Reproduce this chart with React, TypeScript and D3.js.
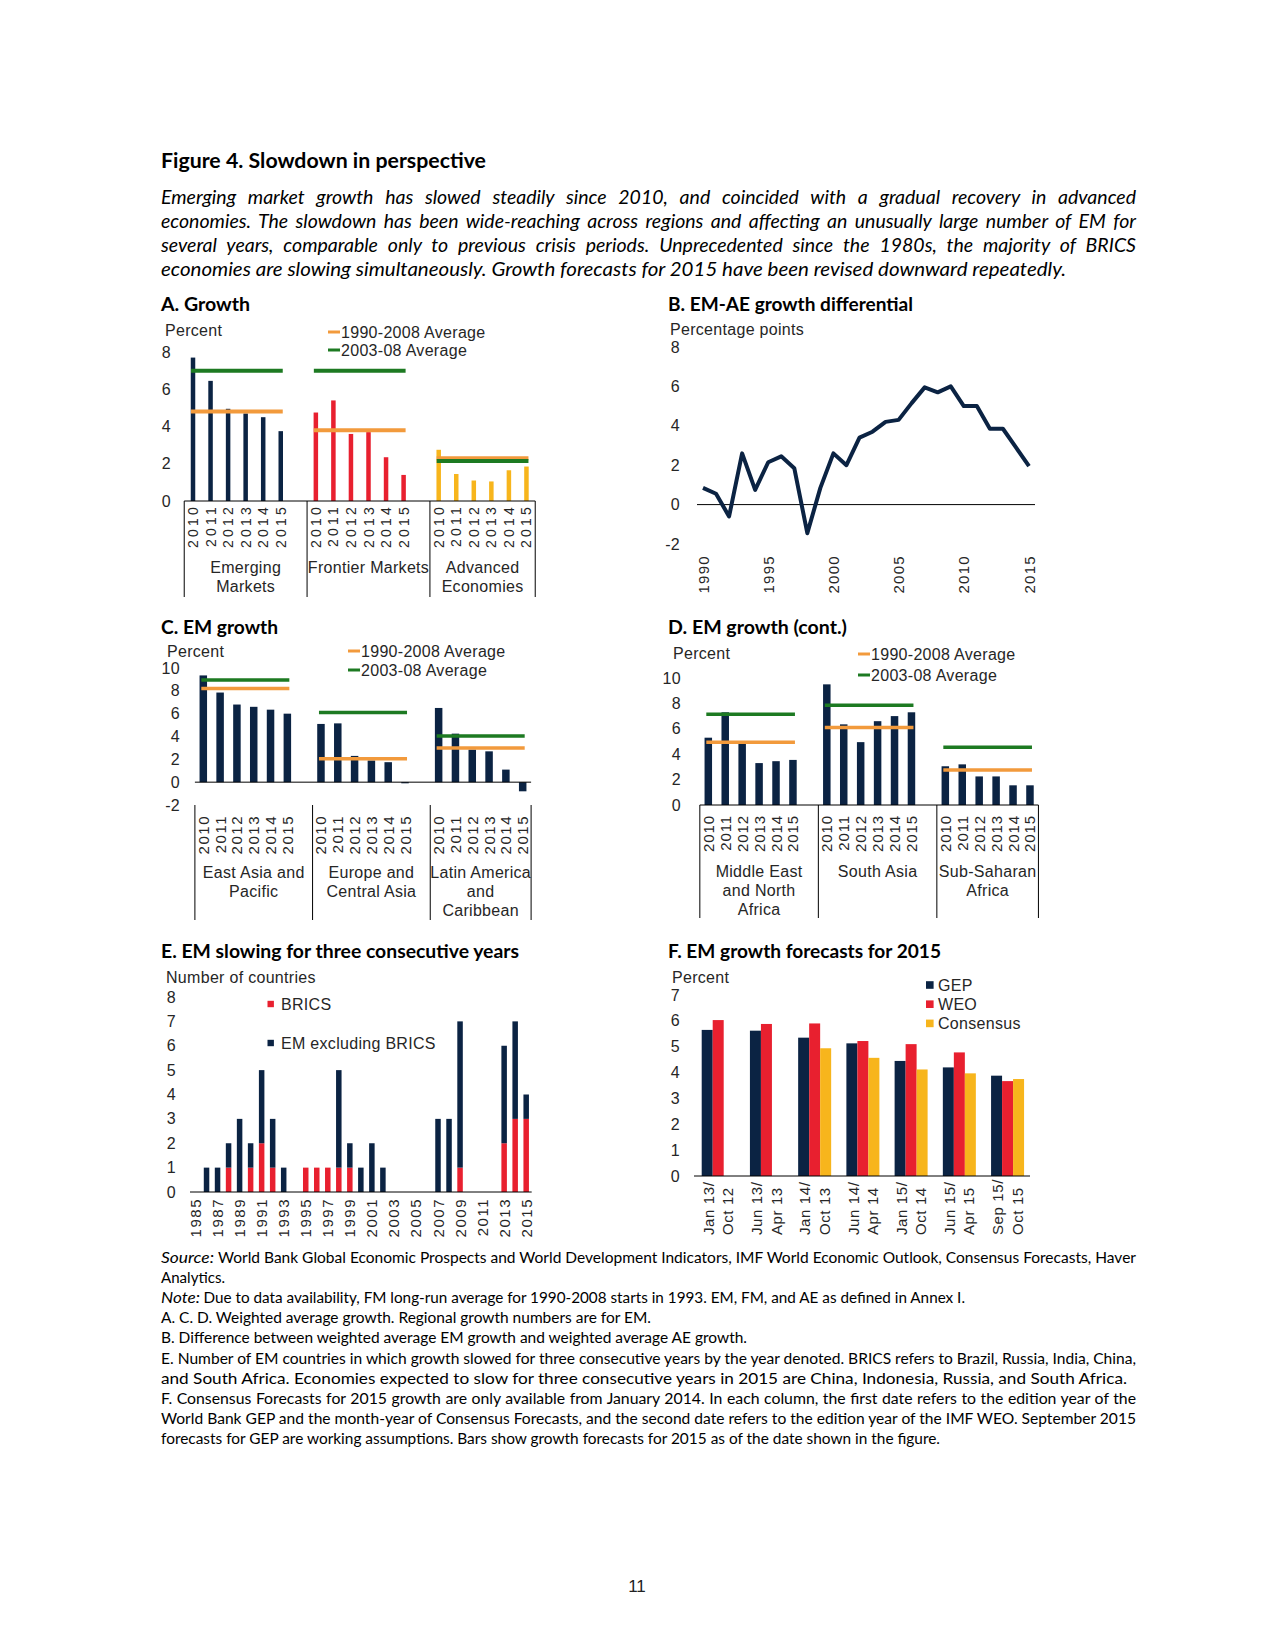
import React, { useEffect, useRef, useState } from "react";
import * as d3 from "d3";

// ---- colours / fonts
const NAVY = "#0b2343";
const RED = "#e8202f";
const GOLD = "#f7b51c";
const ORANGE = "#f29a3c";
const GREEN = "#1d7a22";
const INK = "#262626";
const CHART_FONT = "'Liberation Sans', Arial, sans-serif";
const BODY_FONT = "Lato, 'Open Sans', sans-serif";

// ---- A. Growth
const years = ["2010", "2011", "2012", "2013", "2014", "2015"];
const aGroups = [["Emerging", "Markets"], ["Frontier Markets"], ["Advanced", "Economies"]];
const aEM = [7.7, 6.45, 4.95, 4.7, 4.5, 3.75];
const aFM = [4.75, 5.4, 3.6, 3.7, 2.35, 1.4];
const aAE = [2.75, 1.45, 1.1, 1.05, 1.65, 1.85];
const aAvg9008 = [4.8, 3.8, 2.3];
const aAvg0308 = [7.0, 7.0, 2.15];

// ---- B. EM-AE growth differential
const bYears = [1990, 1991, 1992, 1993, 1994, 1995, 1996, 1997, 1998, 1999, 2000, 2001, 2002,
  2003, 2004, 2005, 2006, 2007, 2008, 2009, 2010, 2011, 2012, 2013, 2014, 2015];
const bDiff = [0.85, 0.55, -0.6, 2.6, 0.75, 2.15, 2.45, 1.85, -1.45, 0.85, 2.6, 2.0, 3.4,
  3.7, 4.2, 4.3, 5.15, 5.95, 5.7, 6.0, 5.0, 5.0, 3.85, 3.85, 2.9, 1.95];
const bTickYears = [1990, 1995, 2000, 2005, 2010, 2015];

// ---- C. EM growth
const cGroups = [["East Asia and", "Pacific"], ["Europe and", "Central Asia"], ["Latin America", "and", "Caribbean"]];
const cEAP = [9.35, 7.85, 6.8, 6.6, 6.35, 6.0];
const cECA = [5.1, 5.15, 2.3, 1.9, 1.75, -0.1];
const cLAC = [6.5, 4.25, 2.85, 2.7, 1.1, -0.8];
const cAvg9008 = [8.2, 2.05, 3.0];
const cAvg0308 = [8.95, 6.1, 4.05];

// ---- D. EM growth (cont.)
const dGroups = [["Middle East", "and North", "Africa"], ["South Asia"], ["Sub-Saharan", "Africa"]];
const dMENA = [5.3, 7.3, 4.85, 3.3, 3.45, 3.55];
const dSAR = [9.5, 6.35, 4.95, 6.6, 7.0, 7.3];
const dSSA = [3.05, 3.2, 2.25, 2.25, 1.55, 1.55];
const dAvg9008 = [4.95, 6.1, 2.75];
const dAvg0308 = [7.15, 7.85, 4.55];

// ---- E. EM slowing for three consecutive years
const eYears = ["1985", "1986", "1987", "1988", "1989", "1990", "1991", "1992", "1993", "1994",
  "1995", "1996", "1997", "1998", "1999", "2000", "2001", "2002", "2003", "2004", "2005", "2006",
  "2007", "2008", "2009", "2010", "2011", "2012", "2013", "2014", "2015"];
const eBRICS = [0, 0, 0, 1, 0, 1, 2, 1, 0, 0, 1, 1, 1, 1, 1, 0, 0, 0, 0, 0, 0, 0, 0, 0, 1, 0, 0, 0, 2, 3, 3];
const eOther = [0, 1, 1, 1, 3, 1, 3, 2, 1, 0, 0, 0, 0, 4, 1, 1, 2, 1, 0, 0, 0, 0, 3, 3, 6, 0, 0, 0, 4, 4, 1];

// ---- F. EM growth forecasts for 2015
const fDates = [["Jan 13/", "Oct 12"], ["Jun 13/", "Apr 13"], ["Jan 14/", "Oct 13"], ["Jun 14/", "Apr 14"],
  ["Jan 15/", "Oct 14"], ["Jun 15/", "Apr 15"], ["Sep 15/", "Oct 15"]];
const fSeries = ["GEP", "WEO", "Consensus"];
const fGEP = [5.65, 5.62, 5.35, 5.13, 4.45, 4.2, 3.88];
const fWEO = [6.03, 5.88, 5.9, 5.22, 5.1, 4.78, 3.67];
const fConsensus = [null, null, 4.94, 4.57, 4.12, 3.97, 3.75];

const chartText = { fontFamily: CHART_FONT, fill: INK, fontSize: 16, letterSpacing: 0.3 };

// text line fitted to a measured width: justified lines get word spacing, others are squeezed a bit
function FitLine({ x, y, end, justify = false, style, children }) {
  const ref = useRef<SVGTextElement>(null);
  const [adj, setAdj] = useState<any>(null);
  useEffect(() => {
    let done = false;
    const measure = () => {
      const el = ref.current;
      if (!el || done) return;
      done = true;
      const w = el.getComputedTextLength();
      const target = end - x;
      const spaces = ((el.textContent || "").match(/ /g) || []).length;
      if (justify && spaces > 0 && target > w) setAdj({ ws: (target - w) / spaces });
      else setAdj({ len: target });
    };
    if ((document as any).fonts && (document as any).fonts.ready) (document as any).fonts.ready.then(measure);
    else measure();
  }, []);
  return (
    <text ref={ref} x={x} y={y}
      textLength={adj && adj.len ? adj.len : undefined}
      lengthAdjust="spacingAndGlyphs"
      style={{ ...style, wordSpacing: adj && adj.ws ? adj.ws : 0 }}>{children}</text>
  );
}

const titleStyle = { fontFamily: BODY_FONT, fontWeight: 700, fontSize: 19.5, fill: "#000" };
const Title = ({ x, y, len, children }) => (
  <FitLine x={x} y={y} end={x + len} style={titleStyle}>{children}</FitLine>
);

const VText = ({ x, y, anchor = "end", size = 14.5, ls = 1, children }) => (
  <text transform={`translate(${x},${y}) rotate(-90)`} textAnchor={anchor} dominantBaseline="central"
    style={{ ...chartText, fontSize: size, letterSpacing: ls }}>{children}</text>
);

const Legend2 = ({ x, y }) => (
  <g>
    {[["1990-2008 Average", ORANGE], ["2003-08 Average", GREEN]].map(([t, c], i) => (
      <g key={t}>
        <line x1={x} x2={x + 12} y1={y[i]} y2={y[i]} stroke={c} strokeWidth={3} />
        <text x={x + 13} y={y[i]} dominantBaseline="central" style={chartText}>{t}</text>
      </g>
    ))}
  </g>
);

function GroupPanel({ p }) {
  const y = d3.scaleLinear().domain(p.yDomain).range(p.yRange);
  const slot = d3.scaleLinear().domain([0, 1]).range([p.slot0, p.slot0 + p.step]);
  const axisY = y(p.yDomain[0]);
  const zeroY = y(0);
  const sepSlots = [-0.5, 6.5, 13.5, 19.5];
  return (
    <g>
      <Title x={p.titleX} y={p.titleY} len={p.titleLen}>{p.title}</Title>
      <text x={p.unitX} y={p.unitY} dominantBaseline="central" style={chartText}>Percent</text>
      <Legend2 x={p.legendX} y={p.legendY} />
      {p.yTicks.map((t) => (
        <text key={t} x={p.tickX} y={y(t)} textAnchor="end" dominantBaseline="central" style={chartText}>{t}</text>
      ))}
      {p.values.map((vals, g) =>
        vals.map((v, i) => {
          const cx = slot(g * 7 + i);
          return (
            <rect key={`${g}-${i}`} x={cx - p.barW / 2} width={p.barW}
              y={Math.min(y(v), zeroY)} height={Math.abs(y(v) - zeroY)} fill={p.colors[g]} />
          );
        })
      )}
      <line x1={slot(-0.5)} x2={slot(19.5)} y1={zeroY} y2={zeroY} stroke="#000" strokeWidth={1} />
      {p.values.map((_, g) => (
        <g key={`avg${g}`}>
          <line x1={slot(g * 7) - 2} x2={slot(g * 7 + 5) + 2} y1={y(p.avg1[g])} y2={y(p.avg1[g])}
            stroke={ORANGE} strokeWidth={p.lineW} />
          <line x1={slot(g * 7) - 2} x2={slot(g * 7 + 5) + 2} y1={y(p.avg2[g])} y2={y(p.avg2[g])}
            stroke={GREEN} strokeWidth={p.lineW} />
        </g>
      ))}
      {sepSlots.map((s) => (
        <line key={s} x1={slot(s)} x2={slot(s)} y1={axisY} y2={p.sepBottom} stroke="#000" strokeWidth={1} />
      ))}
      {p.values.map((vals, g) =>
        vals.map((_, i) => (
          <VText key={`yl${g}-${i}`} x={slot(g * 7 + i)} y={p.yearTop} size={p.yearSize} ls={p.yearLs}>
            {years[i]}
          </VText>
        ))
      )}
      {p.groups.map((lines, g) => {
        const cx = (slot(g * 7 - 0.5) + slot(Math.min(g * 7 + 6.5, 19.5))) / 2;
        return (
          <text key={`gl${g}`} textAnchor="middle" style={chartText}>
            {lines.map((l, k) => (
              <tspan key={k} x={cx} y={p.groupY + k * 19}>{l}</tspan>
            ))}
          </text>
        );
      })}
    </g>
  );
}

const panelA = {
  title: "A. Growth", titleX: 161, titleY: 311, titleLen: 89,
  unitX: 165, unitY: 330, legendX: 328, legendY: [332, 350],
  yDomain: [0, 8], yRange: [501, 352], yTicks: [0, 2, 4, 6, 8], tickX: 171,
  slot0: 193, step: 17.55, barW: 4.5, lineW: 4, sepBottom: 597,
  yearTop: 504, yearSize: 14, yearLs: 3.2, groupY: 573,
  groups: aGroups, values: [aEM, aFM, aAE], avg1: aAvg9008, avg2: aAvg0308, colors: [NAVY, RED, GOLD],
};

const panelC = {
  title: "C. EM growth", titleX: 161, titleY: 634, titleLen: 117,
  unitX: 167, unitY: 651, legendX: 348, legendY: [651, 670],
  yDomain: [-2, 10], yRange: [805, 668], yTicks: [-2, 0, 2, 4, 6, 8, 10], tickX: 180,
  slot0: 203.3, step: 16.81, barW: 7.5, lineW: 3.5, sepBottom: 920,
  yearTop: 815, yearSize: 15, yearLs: 1.5, groupY: 878,
  groups: cGroups, values: [cEAP, cECA, cLAC], avg1: cAvg9008, avg2: cAvg0308, colors: [NAVY, NAVY, NAVY],
};

const panelD = {
  title: "D. EM growth (cont.)", titleX: 668, titleY: 634, titleLen: 179,
  unitX: 673, unitY: 653, legendX: 858, legendY: [654, 675],
  yDomain: [0, 10], yRange: [805, 678], yTicks: [0, 2, 4, 6, 8, 10], tickX: 681,
  slot0: 708.3, step: 16.93, barW: 7.5, lineW: 3.5, sepBottom: 918,
  yearTop: 815, yearSize: 15, yearLs: 0.9, groupY: 877,
  groups: dGroups, values: [dMENA, dSAR, dSSA], avg1: dAvg9008, avg2: dAvg0308, colors: [NAVY, NAVY, NAVY],
};

function LinePanel() {
  const x = d3.scaleLinear().domain([1990, 2015]).range([703, 1029]);
  const y = d3.scaleLinear().domain([-2, 8]).range([544, 347]);
  const line = d3.line<number>().x((_, i) => x(bYears[i])).y((d) => y(d));
  return (
    <g>
      <Title x={668} y={311} len={245}>B. EM-AE growth differential</Title>
      <text x={670} y={329} dominantBaseline="central" style={chartText}>Percentage points</text>
      {y.ticks(5).map((t) => (
        <text key={t} x={680} y={y(t)} textAnchor="end" dominantBaseline="central" style={chartText}>{t}</text>
      ))}
      <line x1={697} x2={1035} y1={y(0)} y2={y(0)} stroke="#000" strokeWidth={1} />
      <path d={line(bDiff) || ""} fill="none" stroke={NAVY} strokeWidth={4} strokeLinejoin="round" />
      {bTickYears.map((yr) => (
        <VText key={yr} x={x(yr)} y={555} size={15} ls={1.3}>{String(yr)}</VText>
      ))}
    </g>
  );
}

function StackPanel() {
  const x = d3.scaleBand().domain(eYears).range([190, 531.7]);
  const y = d3.scaleLinear().domain([0, 8]).range([1192, 997]);
  const stack = d3.stack().keys(["brics", "other"])(
    eYears.map((yr, i) => ({ year: yr, brics: eBRICS[i], other: eOther[i] })) as any
  );
  const colors = [RED, NAVY];
  const bw = 5.5;
  return (
    <g>
      <Title x={161} y={958} len={358}>E. EM slowing for three consecutive years</Title>
      <text x={166} y={977} dominantBaseline="central" style={chartText}>Number of countries</text>
      {y.ticks(8).map((t) => (
        <text key={t} x={176} y={y(t)} textAnchor="end" dominantBaseline="central" style={chartText}>{t}</text>
      ))}
      {stack.map((s, k) =>
        s.map((d, i) =>
          d[1] > d[0] ? (
            <rect key={`${k}-${i}`} x={(x(eYears[i]) as number) + x.bandwidth() / 2 - bw / 2} width={bw}
              y={y(d[1])} height={y(d[0]) - y(d[1])} fill={colors[k]} />
          ) : null
        )
      )}
      <line x1={190} x2={531.7} y1={y(0)} y2={y(0)} stroke="#000" strokeWidth={1} />
      {eYears.filter((_, i) => i % 2 === 0).map((yr) => (
        <VText key={yr} x={(x(yr) as number) + x.bandwidth() / 2} y={1198} size={15} ls={1.5}>{yr}</VText>
      ))}
      {[["BRICS", RED, 1004], ["EM excluding BRICS", NAVY, 1043]].map(([t, c, ly]) => (
        <g key={t as string}>
          <rect x={267.5} y={(ly as number) - 3.2} width={6.4} height={6.4} fill={c as string} />
          <text x={281} y={ly as number} dominantBaseline="central" style={chartText}>{t}</text>
        </g>
      ))}
    </g>
  );
}

function ForecastPanel() {
  const x0 = d3.scaleBand().domain(fDates.map((d) => d.join(""))).range([694, 1031.6]);
  const x1 = d3.scaleBand().domain(fSeries).range([7.7, 7.7 + 33]);
  const y = d3.scaleLinear().domain([0, 7]).range([1176, 995]);
  const data = [fGEP, fWEO, fConsensus];
  const colors = [NAVY, RED, GOLD];
  return (
    <g>
      <Title x={668} y={958} len={273}>F. EM growth forecasts for 2015</Title>
      <text x={672} y={977} dominantBaseline="central" style={chartText}>Percent</text>
      {y.ticks(7).map((t) => (
        <text key={t} x={680} y={y(t)} textAnchor="end" dominantBaseline="central" style={chartText}>{t}</text>
      ))}
      {fDates.map((d, g) =>
        data.map((ser, k) =>
          ser[g] == null ? null : (
            <rect key={`${g}-${k}`} x={(x0(d.join("")) as number) + (x1(fSeries[k]) as number)}
              width={x1.bandwidth()} y={y(ser[g] as number)} height={y(0) - y(ser[g] as number)} fill={colors[k]} />
          )
        )
      )}
      <line x1={694} x2={1030} y1={y(0)} y2={y(0)} stroke="#000" strokeWidth={1} />
      {fDates.map((d) => {
        const cx = (x0(d.join("")) as number) + x0.bandwidth() / 2;
        return (
          <g key={d.join("")}>
            <VText x={cx - 9.7} y={1235} anchor="start" size={15} ls={0.6}>{d[0]}</VText>
            <VText x={cx + 9.7} y={1235} anchor="start" size={15} ls={0.6}>{d[1]}</VText>
          </g>
        );
      })}
      {fSeries.map((s, k) => (
        <g key={s}>
          <rect x={926} y={985 + k * 19.2 - 3.8} width={7.6} height={7.6} fill={colors[k]} />
          <text x={938} y={985 + k * 19.2} dominantBaseline="central" style={chartText}>{s}</text>
        </g>
      ))}
    </g>
  );
}

const introLines = [
  "Emerging market growth has slowed steadily since 2010, and coincided with a gradual recovery in advanced",
  "economies. The slowdown has been wide-reaching across regions and affecting an unusually large number of EM for",
  "several years, comparable only to previous crisis periods. Unprecedented since the 1980s, the majority of BRICS",
  "economies are slowing simultaneously. Growth forecasts for 2015 have been revised downward repeatedly.",
];
const introEnds = [1136, 1136, 1136, 1066];
const introJustify = [true, true, true, false];

// [italic lead, lead end, text, x start of text, right end, justified]
const noteLines = [
  ["Source:", 214, "World Bank Global Economic Prospects and World Development Indicators, IMF World Economic Outlook, Consensus Forecasts, Haver", 218, 1136, true],
  ["", 0, "Analytics.", 161, 225, false],
  ["Note:", 200, "Due to data availability, FM long-run average for 1990-2008 starts in 1993. EM, FM, and AE as defined in Annex I.", 203.5, 965, false],
  ["", 0, "A. C. D. Weighted average growth. Regional growth numbers are for EM.", 161, 651, false],
  ["", 0, "B. Difference between weighted average EM growth and weighted average AE growth.", 161, 747, false],
  ["", 0, "E. Number of EM countries in which growth slowed for three consecutive years by the year denoted. BRICS refers to Brazil, Russia, India, China,", 161, 1136, true],
  ["", 0, "and South Africa. Economies expected to slow for three consecutive years in 2015 are China, Indonesia, Russia, and South Africa.", 161, 1127, false],
  ["", 0, "F. Consensus Forecasts for 2015 growth are only available from January 2014. In each column, the first date refers to the edition year of the", 161, 1136, true],
  ["", 0, "World Bank GEP and the month-year of Consensus Forecasts, and the second date refers to the edition year of the IMF WEO. September 2015", 161, 1136, true],
  ["", 0, "forecasts for GEP are working assumptions. Bars show growth forecasts for 2015 as of the date shown in the figure.", 161, 940, false],
];

function Header() {
  const paraStyle = { fontFamily: BODY_FONT, fontStyle: "italic", fontSize: 19.5, fill: "#000" };
  return (
    <g>
      <FitLine x={161} y={168} end={486}
        style={{ fontFamily: BODY_FONT, fontWeight: 700, fontSize: 21, fill: "#000" }}>
        Figure 4. Slowdown in perspective
      </FitLine>
      {introLines.map((l, i) => (
        <FitLine key={i} x={161} y={204 + i * 24} end={introEnds[i]} justify={introJustify[i]} style={paraStyle}>
          {l}
        </FitLine>
      ))}
    </g>
  );
}

function Notes() {
  const noteStyle = { fontFamily: BODY_FONT, fontSize: 15.8, fill: "#000" };
  return (
    <g>
      {noteLines.map(([lead, leadEnd, t, x0, x1, just], i) => {
        const yy = 1263 + i * 20.1;
        return (
          <g key={i}>
            {lead ? (
              <FitLine x={161} y={yy} end={leadEnd as number} style={{ ...noteStyle, fontStyle: "italic" }}>
                {lead}
              </FitLine>
            ) : null}
            <FitLine x={x0 as number} y={yy} end={x1 as number} justify={just as boolean} style={noteStyle}>
              {t}
            </FitLine>
          </g>
        );
      })}
    </g>
  );
}

export default function App() {
  return (
    <svg width={1275} height={1650} viewBox="0 0 1275 1650"
      style={{ position: "absolute", left: 0, top: 0, background: "#fff" }}>
      <rect width={1275} height={1650} fill="#fff" />
      <Header />
      <GroupPanel p={panelA} />
      <LinePanel />
      <GroupPanel p={panelC} />
      <GroupPanel p={panelD} />
      <StackPanel />
      <ForecastPanel />
      <Notes />
      <text x={637} y={1592} textAnchor="middle"
        style={{ fontFamily: CHART_FONT, fontSize: 17, fill: "#222" }}>11</text>
    </svg>
  );
}
